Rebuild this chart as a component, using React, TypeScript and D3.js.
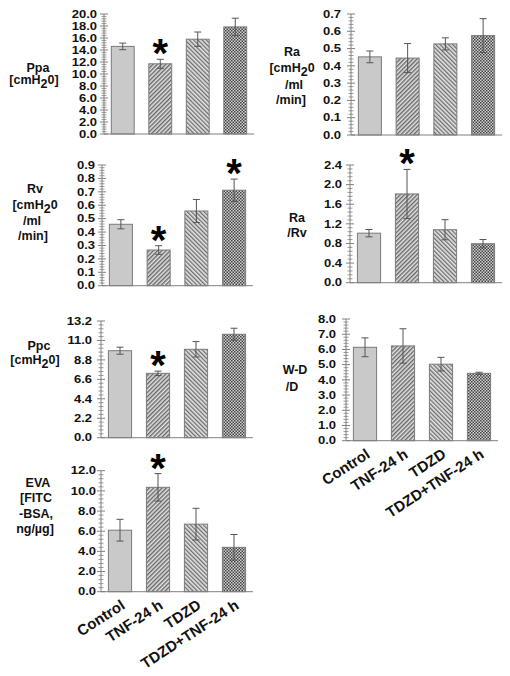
import React from "react";
import * as d3 from "d3";

const categories = ["Control", "TNF-24 h", "TDZD", "TDZD+TNF-24 h"];

const ppaMeans = [14.6, 11.7, 15.8, 17.85];
const ppaErrs = [0.55, 0.75, 1.2, 1.45];
const ppaSig = [false, true, false, false];
const ppaTicks = [0, 2, 4, 6, 8, 10, 12, 14, 16, 18, 20];

const raMeans = [0.452, 0.445, 0.527, 0.575];
const raErrs = [0.034, 0.084, 0.035, 0.098];
const raSig = [false, false, false, false];
const raTicks = [0, 0.1, 0.2, 0.3, 0.4, 0.5, 0.6, 0.7];

const rvMeans = [0.458, 0.266, 0.557, 0.712];
const rvErrs = [0.034, 0.032, 0.086, 0.083];
const rvSig = [false, true, false, true];
const rvTicks = [0, 0.1, 0.2, 0.3, 0.4, 0.5, 0.6, 0.7, 0.8, 0.9];

const rarvMeans = [1.01, 1.81, 1.08, 0.795];
const rarvErrs = [0.075, 0.5, 0.205, 0.085];
const rarvSig = [false, true, false, false];
const rarvTicks = [0, 0.4, 0.8, 1.2, 1.6, 2.0, 2.4];

const ppcMeans = [9.84, 7.28, 10.0, 11.7];
const ppcErrs = [0.4, 0.25, 0.87, 0.68];
const ppcSig = [false, true, false, false];
const ppcTicks = [0, 2.2, 4.4, 6.6, 8.8, 11.0, 13.2];

const wdMeans = [6.14, 6.23, 5.03, 4.43];
const wdErrs = [0.62, 1.13, 0.45, 0.07];
const wdSig = [false, false, false, false];
const wdTicks = [0, 1, 2, 3, 4, 5, 6, 7, 8];

const evaMeans = [6.1, 10.35, 6.7, 4.4];
const evaErrs = [1.08, 1.36, 1.57, 1.27];
const evaSig = [false, true, false, false];
const evaTicks = [0, 2, 4, 6, 8, 10, 12];

const ppaLabel = ["Ppa", "[cmH20]"];
const raLabel = ["Ra", "[cmH20", "/ml", "/min]"];
const rvLabel = ["Rv", "[cmH20", "/ml", "/min]"];
const rarvLabel = ["Ra", "/Rv"];
const ppcLabel = ["Ppc", "[cmH20]"];
const wdLabel = ["W-D", "/D"];
const evaLabel = ["EVA", "[FITC", "-BSA,", "ng/µg]"];

const FONT = "'Liberation Sans', Arial, Helvetica, sans-serif";
const fills = ["#c9c9c9", "url(#hatchA)", "url(#hatchB)", "url(#checker)"];

type PanelProps = {
  x0: number; x1: number; y0: number; yTop: number;
  means: number[]; errs: number[]; sig: boolean[]; ticks: number[];
  label: string[]; labelX: number[]; labelY: number[];
  tickGap: number; showX: boolean;
};

function LabelLine({ text, x, y }: { text: string; x: number; y: number }) {
  const i = text.indexOf("cmH2");
  if (i >= 0) {
    const pre = text.slice(0, i + 3);
    const post = text.slice(i + 4);
    return (
      <text x={x} y={y} textAnchor="middle" fontFamily={FONT} fontWeight="bold" fontSize={12.5} fill="#111">
        {pre}
        <tspan dy={3.5} fontSize={12.5}>2</tspan>
        <tspan dy={-3.5}>{post}</tspan>
      </text>
    );
  }
  return (
    <text x={x} y={y} textAnchor="middle" fontFamily={FONT} fontWeight="bold" fontSize={12.5} fill="#111">
      {text}
    </text>
  );
}

function Panel(p: PanelProps) {
  const max = p.ticks[p.ticks.length - 1];
  const x = d3.scaleBand<string>().domain(categories).range([p.x0, p.x1]).paddingInner(0.39).paddingOuter(0.195);
  const y = d3.scaleLinear().domain([0, max]).range([p.y0, p.yTop]);
  const step = p.ticks[1] - p.ticks[0];
  const minor: number[] = [];
  for (let i = 0; i < p.ticks.length - 1; i++) {
    for (let k = 1; k < 5; k++) minor.push(p.ticks[i] + (step * k) / 5);
  }
  const fmt = d3.format(".1f");
  const bw = x.bandwidth();
  return (
    <g>
      {categories.map((c, i) => {
        const bx = x(c)!;
        const top = y(p.means[i]);
        const cx = bx + bw / 2;
        const eTop = y(p.means[i] + p.errs[i]);
        const eBot = y(p.means[i] - p.errs[i]);
        return (
          <g key={c}>
            <rect x={bx} y={top} width={bw} height={p.y0 - top} fill={fills[i]} stroke="#7a7a7a" strokeWidth={1} />
            <line x1={cx} x2={cx} y1={eTop} y2={eBot} stroke="#555" strokeWidth={1} />
            <line x1={cx - 3.5} x2={cx + 3.5} y1={eTop} y2={eTop} stroke="#555" strokeWidth={1} />
            <line x1={cx - 3.5} x2={cx + 3.5} y1={eBot} y2={eBot} stroke="#555" strokeWidth={1} />
            {p.sig[i] && (
              <text x={cx} y={eTop + 8} textAnchor="middle" fontFamily={FONT} fontWeight="bold" fontSize={40} fill="#000">*</text>
            )}
          </g>
        );
      })}
      <line x1={p.x0} x2={p.x1} y1={p.y0} y2={p.y0} stroke="#808080" strokeWidth={1} />
      <line x1={p.x0} x2={p.x0} y1={p.y0} y2={p.yTop} stroke="#808080" strokeWidth={1} />
      {minor.map((v, i) => (
        <line key={"m" + i} x1={p.x0 - 2.5} x2={p.x0 + 2.5} y1={y(v)} y2={y(v)} stroke="#808080" strokeWidth={0.8} />
      ))}
      {p.ticks.map((v) => (
        <g key={"t" + v}>
          <line x1={p.x0 - 4} x2={p.x0 + 4} y1={y(v)} y2={y(v)} stroke="#808080" strokeWidth={1} />
          <text transform={`translate(${p.x0 - p.tickGap},${y(v)}) scale(1.25,1)`} dy="0.36em" textAnchor="end"
            fontFamily={FONT} fontWeight="bold" fontSize={10.4} fill="#111">
            {fmt(v)}
          </text>
        </g>
      ))}
      {p.label.map((t, i) => (
        <LabelLine key={i} text={t} x={p.labelX[i]} y={p.labelY[i]} />
      ))}
      {p.showX &&
        categories.map((c) => {
          const ax = x(c)! + bw / 2 + 6;
          const ay = p.y0 + 16;
          return (
            <text key={"x" + c} x={ax} y={ay} textAnchor="end" fontFamily={FONT} fontWeight="bold" fontSize={15} fill="#111"
              transform={`rotate(-33 ${ax} ${ay})`}>
              {c}
            </text>
          );
        })}
    </g>
  );
}

export default function App() {
  return (
    <svg width={510} height={676} style={{ position: "absolute", left: 0, top: 0, background: "#fff" }}>
      <defs>
        <pattern id="hatchA" width={3} height={3} patternUnits="userSpaceOnUse" patternTransform="rotate(45)">
          <rect width={3} height={3} fill="#e2e2e2" />
          <rect width={1.4} height={3} fill="#666" />
        </pattern>
        <pattern id="hatchB" width={3} height={3} patternUnits="userSpaceOnUse" patternTransform="rotate(-45)">
          <rect width={3} height={3} fill="#e4e4e4" />
          <rect width={1.3} height={3} fill="#6c6c6c" />
        </pattern>
        <pattern id="checker" width={3} height={3} patternUnits="userSpaceOnUse">
          <rect width={3} height={3} fill="#d0d0d0" />
          <rect width={1.5} height={1.5} fill="#444" />
          <rect x={1.5} y={1.5} width={1.5} height={1.5} fill="#444" />
        </pattern>
      </defs>
      <Panel x0={104} x1={254} y0={134} yTop={14} means={ppaMeans} errs={ppaErrs} sig={ppaSig} ticks={ppaTicks}
        label={ppaLabel} labelX={[38, 34]} labelY={[72, 84]} tickGap={7} showX={false} />
      <Panel x0={351} x1={502} y0={135} yTop={14} means={raMeans} errs={raErrs} sig={raSig} ticks={raTicks}
        label={raLabel} labelX={[292, 292, 294, 291]} labelY={[56, 72, 89, 104]} tickGap={10} showX={false} />
      <Panel x0={102} x1={253} y0={285.7} yTop={165} means={rvMeans} errs={rvErrs} sig={rvSig} ticks={rvTicks}
        label={rvLabel} labelX={[35, 35, 32, 33]} labelY={[193, 209, 225, 240]} tickGap={7} showX={false} />
      <Panel x0={350} x1={502} y0={282.7} yTop={165} means={rarvMeans} errs={rarvErrs} sig={rarvSig} ticks={rarvTicks}
        label={rarvLabel} labelX={[297, 297]} labelY={[222, 237]} tickGap={8} showX={false} />
      <Panel x0={101} x1={253} y0={437.7} yTop={321} means={ppcMeans} errs={ppcErrs} sig={ppcSig} ticks={ppcTicks}
        label={ppcLabel} labelX={[39, 35]} labelY={[350, 364]} tickGap={9} showX={false} />
      <Panel x0={346} x1={498} y0={440.7} yTop={319} means={wdMeans} errs={wdErrs} sig={wdSig} ticks={wdTicks}
        label={wdLabel} labelX={[295, 292]} labelY={[373.5, 391]} tickGap={10} showX={true} />
      <Panel x0={101} x1={253} y0={591.7} yTop={470.7} means={evaMeans} errs={evaErrs} sig={evaSig} ticks={evaTicks}
        label={evaLabel} labelX={[38, 36, 36, 35]} labelY={[487, 502, 518, 533]} tickGap={5} showX={true} />
    </svg>
  );
}
